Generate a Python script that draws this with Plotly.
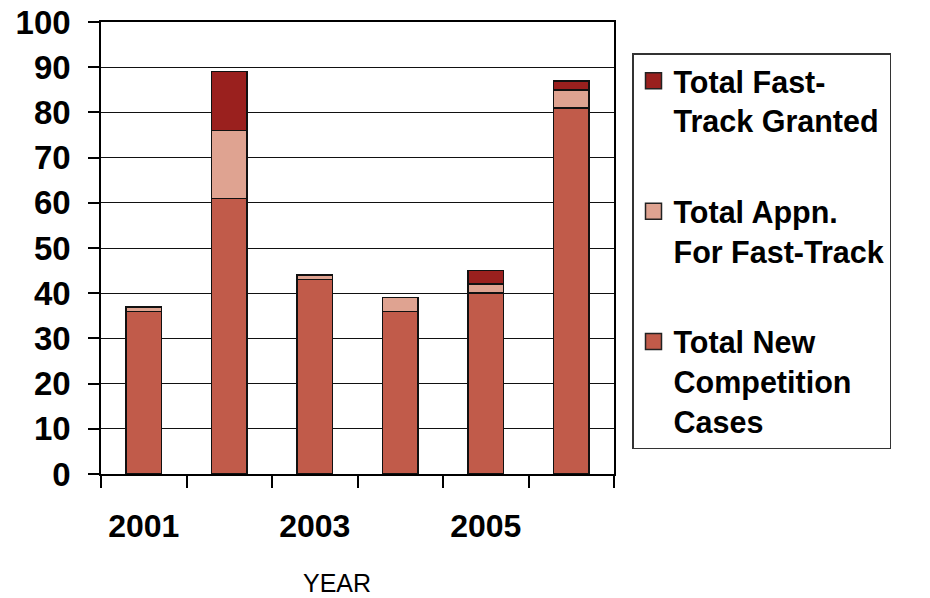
import plotly.graph_objects as go

# Yearly competition case counts, stacked
years = ["2001", "2002", "2003", "2004", "2005", "2006"]
year_labels = ["2001", "", "2003", "", "2005", ""]
new_cases = [36, 61, 43, 36, 40, 81]
appn_fast_track = [1, 15, 1, 3, 2, 4]
granted_fast_track = [0, 13, 0, 0, 3, 2]

series = [
    ("Total New<br>Competition<br>Cases", new_cases, "#C15B4A"),
    ("Total Appn.<br>For Fast-Track", appn_fast_track, "#DFA391"),
    ("Total Fast-<br>Track Granted", granted_fast_track, "#9A201E"),
]
y_ticks = list(range(0, 101, 10))

FONT = "Liberation Sans, Arial, sans-serif"

fig = go.Figure()
# stacked bars, bottom to top
for name, vals, col in series:
    fig.add_trace(go.Bar(
        x=years, y=vals, name=name, width=0.41,
        marker=dict(color=col, line=dict(color="#111111", width=1.5)),
        showlegend=False,
    ))
# square legend keys, listed top series first
for name, vals, col in reversed(series):
    fig.add_trace(go.Scatter(
        x=[None], y=[None], mode="markers", name=name, legendgroup=name,
        marker=dict(symbol="square", size=16, color=col,
                    line=dict(color="#222222", width=1.5)),
        showlegend=True,
    ))

fig.update_layout(
    width=930, height=598,
    margin=dict(l=101, r=316, t=22, b=124, autoexpand=False),
    paper_bgcolor="white", plot_bgcolor="white",
    barmode="stack",
    font=dict(family=FONT, color="black"),
    legend=dict(
        x=(632 - 101) / 513, xanchor="left",
        y=(474 - 53) / 452, yanchor="top",
        traceorder="grouped", tracegroupgap=48,
        valign="top",
        font=dict(family=FONT, size=30.5, weight="bold", color="black"),
        bordercolor="#333333", borderwidth=1.5, bgcolor="white",
    ),
    annotations=[dict(
        text="YEAR", xref="paper", yref="paper",
        x=(337 - 101) / 513, y=-(583 - 474) / 452,
        xanchor="center", yanchor="middle", showarrow=False,
        font=dict(family=FONT, size=25, color="black"),
    )],
)

fig.update_xaxes(
    type="category", tickmode="array", tickvals=years, ticktext=year_labels,
    tickson="boundaries", ticks="outside", ticklen=12, tickwidth=1.5, tickcolor="black",
    showline=True, linecolor="black", linewidth=1.5, mirror=True,
    showgrid=False, ticklabelstandoff=23, automargin=False,
    tickfont=dict(family=FONT, size=32, weight="bold", color="black"),
)
fig.update_yaxes(
    range=[0, 100], tickmode="array", tickvals=y_ticks,
    ticks="outside", ticklen=11, tickwidth=1.5, tickcolor="black",
    showline=True, linecolor="black", linewidth=1.5, mirror=True,
    showgrid=True, gridcolor="#111111", gridwidth=1.4, zeroline=False,
    ticklabelstandoff=11, automargin=False,
    tickfont=dict(family=FONT, size=33, weight="bold", color="black"),
)

fig.write_html("out.html")
